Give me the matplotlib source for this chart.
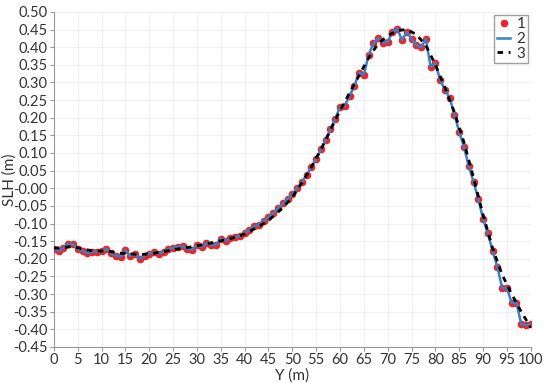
import numpy as np
import matplotlib
matplotlib.use("Agg")
import matplotlib.pyplot as plt

# series 1 / 2: sampled every 1 m
y1 = np.arange(0, 101, 1)
slh1 = [-0.172, -0.178, -0.169, -0.158, -0.158, -0.172, -0.178, -0.184, -0.180, -0.180,
        -0.179, -0.172, -0.184, -0.191, -0.194, -0.176, -0.192, -0.186, -0.200, -0.191,
        -0.185, -0.181, -0.186, -0.180, -0.172, -0.169, -0.166, -0.164, -0.172, -0.174,
        -0.161, -0.166, -0.155, -0.161, -0.160, -0.143, -0.149, -0.142, -0.138, -0.136,
        -0.127, -0.118, -0.108, -0.103, -0.093, -0.082, -0.070, -0.057, -0.043, -0.030,
        -0.017, 0.000, 0.017, 0.038, 0.060, 0.083, 0.110, 0.137, 0.167, 0.197,
        0.230, 0.234, 0.262, 0.289, 0.328, 0.322, 0.378, 0.411, 0.425, 0.412,
        0.415, 0.443, 0.452, 0.420, 0.443, 0.423, 0.406, 0.400, 0.423, 0.344,
        0.355, 0.307, 0.279, 0.256, 0.208, 0.160, 0.117, 0.063, 0.018, -0.030,
        -0.087, -0.127, -0.178, -0.223, -0.283, -0.283, -0.325, -0.325, -0.385, -0.388,
        -0.385]

# series 3: smoother curve, every 2 m
y3 = np.arange(0, 101, 2)
slh3 = [-0.170, -0.168, -0.165, -0.172, -0.177, -0.178, -0.180, -0.184, -0.186, -0.188,
        -0.186, -0.182, -0.177, -0.172, -0.168, -0.163, -0.158, -0.152, -0.146, -0.139,
        -0.130, -0.115, -0.100, -0.080, -0.055, -0.025, 0.015, 0.060, 0.110, 0.165,
        0.220, 0.270, 0.320, 0.370, 0.410, 0.432, 0.447, 0.450, 0.436, 0.405,
        0.350, 0.285, 0.215, 0.130, 0.030, -0.075, -0.170, -0.245, -0.300, -0.350,
        -0.395]

xticks = np.arange(0, 101, 5)
yticks = np.round(np.arange(-0.45, 0.501, 0.05), 2)

plt.rcParams['font.family'] = ['Lato', 'DejaVu Sans']
plt.rcParams['axes.unicode_minus'] = False
text_color = '#333333'

fig = plt.figure(figsize=(5.5, 3.83), dpi=100)
ax = fig.add_axes([0.098, 0.094, 0.867, 0.875])

ax.plot(y1, slh1, 'o', color='#e8262b', markersize=4.5, zorder=3, label='1')
ax.plot(y1, slh1, '-', color='#3a80c2', lw=1.8, zorder=4, label='2')
ax.plot(y3, slh3, '--', color='black', lw=2, dashes=(2, 2), zorder=5, label='3')

ax.set_xlim(0, 100)
ax.set_ylim(-0.45, 0.50)
ax.set_xticks(xticks)
ax.set_yticks(yticks)
ax.set_yticklabels([f"{v:.2f}" for v in yticks])
ax.grid(True, color='#f0f0f0', lw=0.8, zorder=0)

for side in ['top', 'right']:
    ax.spines[side].set_visible(False)
for side in ['left', 'bottom']:
    ax.spines[side].set_color('#999999')
ax.tick_params(colors='#999999', labelcolor=text_color, labelsize=10.5, length=3, pad=1.5)

ax.set_xlabel('Y (m)', fontsize=11, color=text_color, va='center')
ax.set_ylabel('SLH (m)', fontsize=11, color=text_color, va='center')
ax.xaxis.set_label_coords(0.5, -0.084)
ax.yaxis.set_label_coords(-0.094, 0.5)

leg = ax.legend(loc='upper right', fontsize=11, fancybox=False, handlelength=0.9,
                handletextpad=0.4, borderpad=0.15, labelspacing=0.05,
                bbox_to_anchor=(1.0, 1.0), borderaxespad=0.2)
leg.get_frame().set_edgecolor('#888888')
leg.get_frame().set_linewidth(1.0)
for t in leg.get_texts():
    t.set_color(text_color)

fig.savefig('out.png', dpi=100)
